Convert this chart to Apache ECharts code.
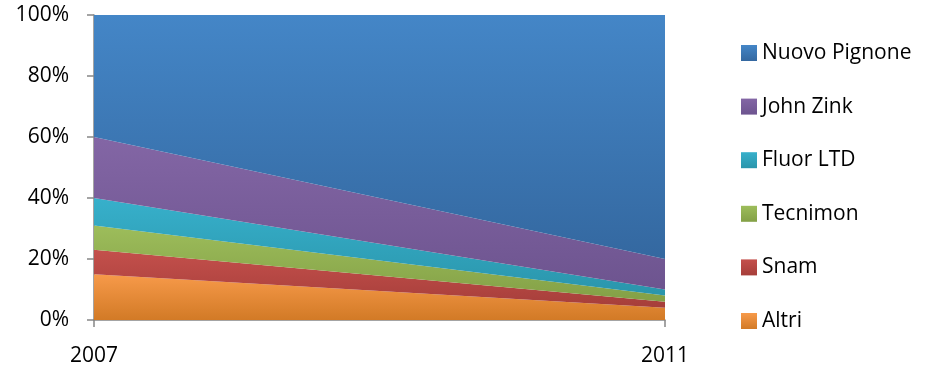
<!DOCTYPE html>
<html>
<head>
<meta charset="utf-8">
<script src="https://cdn.jsdelivr.net/npm/echarts@6/dist/echarts.min.js"></script>
<style>
  html, body { margin: 0; padding: 0; background: #fff; }
  #chart { width: 930px; height: 371px; }
</style>
</head>
<body>
<div id="chart"></div>
<script>
var years = ['2007', '2011'];
var seriesNames = ['Altri', 'Snam', 'Tecnimon', 'Fluor LTD', 'John Zink', 'Nuovo Pignone'];
var altri = [15, 4];
var snam = [8, 2];
var tecnimon = [8, 2];
var fluor = [9, 2];
var johnZink = [20, 10];
var nuovoPignone = [40, 80];
var yTicks = [0, 20, 40, 60, 80, 100];

// colori: [alto, basso] per il gradiente
var colors = [
    ['#f79a4a', '#d27a26'],
    ['#c4504c', '#a63e3a'],
    ['#9dbd5b', '#83a046'],
    ['#37b0cb', '#2a95ab'],
    ['#8366a5', '#6d548f'],
    ['#4486c7', '#3468a0']
];
var values = [altri, snam, tecnimon, fluor, johnZink, nuovoPignone];

var font = '"Open Sans", sans-serif';

var series = seriesNames.map(function (name, i) {
    var grad = new echarts.graphic.LinearGradient(0, 0, 0, 1, [
        { offset: 0, color: colors[i][0] },
        { offset: 1, color: colors[i][1] }
    ]);
    return {
        name: name,
        type: 'line',
        stack: 'tot',
        data: values[i],
        symbol: 'none',
        lineStyle: { width: 0 },
        itemStyle: { color: grad },
        areaStyle: { color: grad, opacity: 1 }
    };
});

var chart = echarts.init(document.getElementById('chart'));
chart.setOption({
    animation: false,
    grid: { left: 94, right: 265, top: 15, bottom: 51 },
    legend: {
        orient: 'vertical',
        left: 741,
        top: 42,
        padding: 0,
        itemWidth: 16,
        itemHeight: 16,
        itemGap: 31.6,
        icon: 'rect',
        data: seriesNames.slice().reverse(),
        textStyle: { fontFamily: font, fontSize: 21, lineHeight: 22, color: '#000' }
    },
    xAxis: {
        type: 'category',
        data: years,
        boundaryGap: false,
        axisLine: { lineStyle: { color: '#868686', width: 1.5 } },
        axisTick: { show: true, length: 7, lineStyle: { color: '#868686', width: 1.5 } },
        axisLabel: { fontFamily: font, fontSize: 21, color: '#000', margin: 26 }
    },
    yAxis: {
        type: 'value',
        min: yTicks[0],
        max: yTicks[yTicks.length - 1],
        interval: 20,
        axisLine: { show: true, lineStyle: { color: '#868686', width: 1.5 } },
        axisTick: { show: true, length: 7, lineStyle: { color: '#868686', width: 1.5 } },
        splitLine: { show: false },
        axisLabel: { fontFamily: font, fontSize: 21, color: '#000', margin: 25, formatter: '{value}%' }
    },
    series: series
});
</script>
</body>
</html>
